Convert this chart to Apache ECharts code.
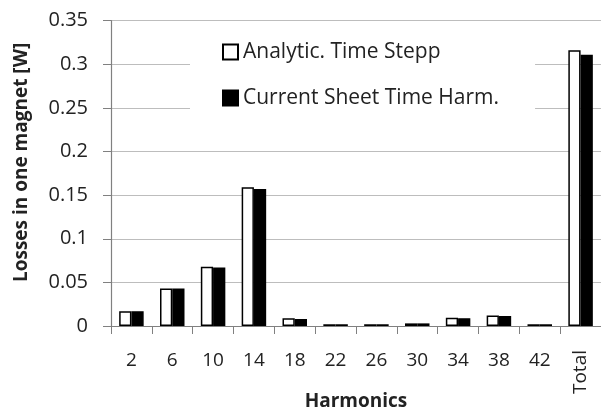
<!DOCTYPE html>
<html><head><meta charset="utf-8">
<script src="https://cdn.jsdelivr.net/npm/echarts@6/dist/echarts.min.js"></script>
<style>html,body{margin:0;padding:0;background:#fff}#c{width:601px;height:411px}</style>
</head><body><div id="c"></div>
<script>
const categories = ['2','6','10','14','18','22','26','30','34','38','42','Total'];
const analytic = [0.017, 0.043, 0.068, 0.159, 0.009, 0.002, 0.002, 0.003, 0.0095, 0.012, 0.002, 0.316];
const currentSheet = [0.017, 0.043, 0.067, 0.157, 0.008, 0.002, 0.002, 0.003, 0.009, 0.0115, 0.002, 0.311];
const yTicks = [0, 0.05, 0.1, 0.15, 0.2, 0.25, 0.3, 0.35];
const seriesNames = ['Analytic. Time Stepp', 'Current Sheet Time Harm.'];

const font = '"Open Sans", sans-serif';
const txt = '#222';
const chart = echarts.init(document.getElementById('c'), null, {renderer:'canvas'});
chart.setOption({
  animation: false,
  backgroundColor: '#fff',
  textStyle: {fontFamily: font, color: txt},
  grid: {left: 111, right: 0, top: 20.7, bottom: 85, containLabel: false, outerBoundsMode: 'none'},
  legend: {
    orient: 'vertical', left: 190, top: 26,
    padding: [13, 36, 14, 32],
    backgroundColor: '#fff',
    itemWidth: 15, itemHeight: 15, itemGap: 20,
    icon: 'rect',
    textStyle: {fontFamily: font, fontSize: 21, color: txt, lineHeight: 26},
    data: seriesNames
  },
  xAxis: [{
    type: 'category', data: categories,
    axisLine: {lineStyle: {color: '#808080', width: 1.2}},
    axisTick: {show: true, length: 8, lineStyle: {color: '#808080'}},
    axisLabel: {fontFamily: font, fontSize: 19, color: txt, margin: 25,
      formatter: v => v === 'Total' ? '' : v},
    name: 'Harmonics', nameLocation: 'middle', nameGap: 66,
    nameTextStyle: {fontFamily: font, fontSize: 19, fontWeight: 'bold', color: txt}
  }, {
    type: 'category', data: categories, position: 'bottom',
    axisLine: {show: false}, axisTick: {show: false},
    axisLabel: {fontFamily: font, fontSize: 19, color: txt, rotate: 90, margin: 24,
      formatter: v => v === 'Total' ? v : ''}
  }],
  yAxis: {
    type: 'value', min: 0, max: 0.35, interval: 0.05,
    axisLine: {show: true, lineStyle: {color: '#808080', width: 1.2}},
    axisTick: {show: true, length: 8, lineStyle: {color: '#808080'}},
    splitLine: {lineStyle: {color: '#bdbdbd', width: 1}},
    axisLabel: {fontFamily: font, fontSize: 20, color: txt, margin: 23,
      formatter: v => { const t = yTicks.find(x => Math.abs(x - v) < 1e-9); return t === undefined ? '' : String(t); }},
    name: 'Losses in one magnet [W]', nameLocation: 'middle', nameGap: 80,
    nameTextStyle: {fontFamily: font, fontSize: 19, fontWeight: 'bold', color: txt, padding: [0,0,0,22]}
  },
  series: [{
    name: seriesNames[0], type: 'bar', data: analytic, barWidth: '30%', barGap: '0%',
    itemStyle: {color: '#fff', borderColor: '#000', borderWidth: 1.5}
  }, {
    name: seriesNames[1], type: 'bar', data: currentSheet, barWidth: '30%', barGap: '0%',
    itemStyle: {color: '#000', borderColor: '#000', borderWidth: 1.5}
  }]
});
</script></body></html>
